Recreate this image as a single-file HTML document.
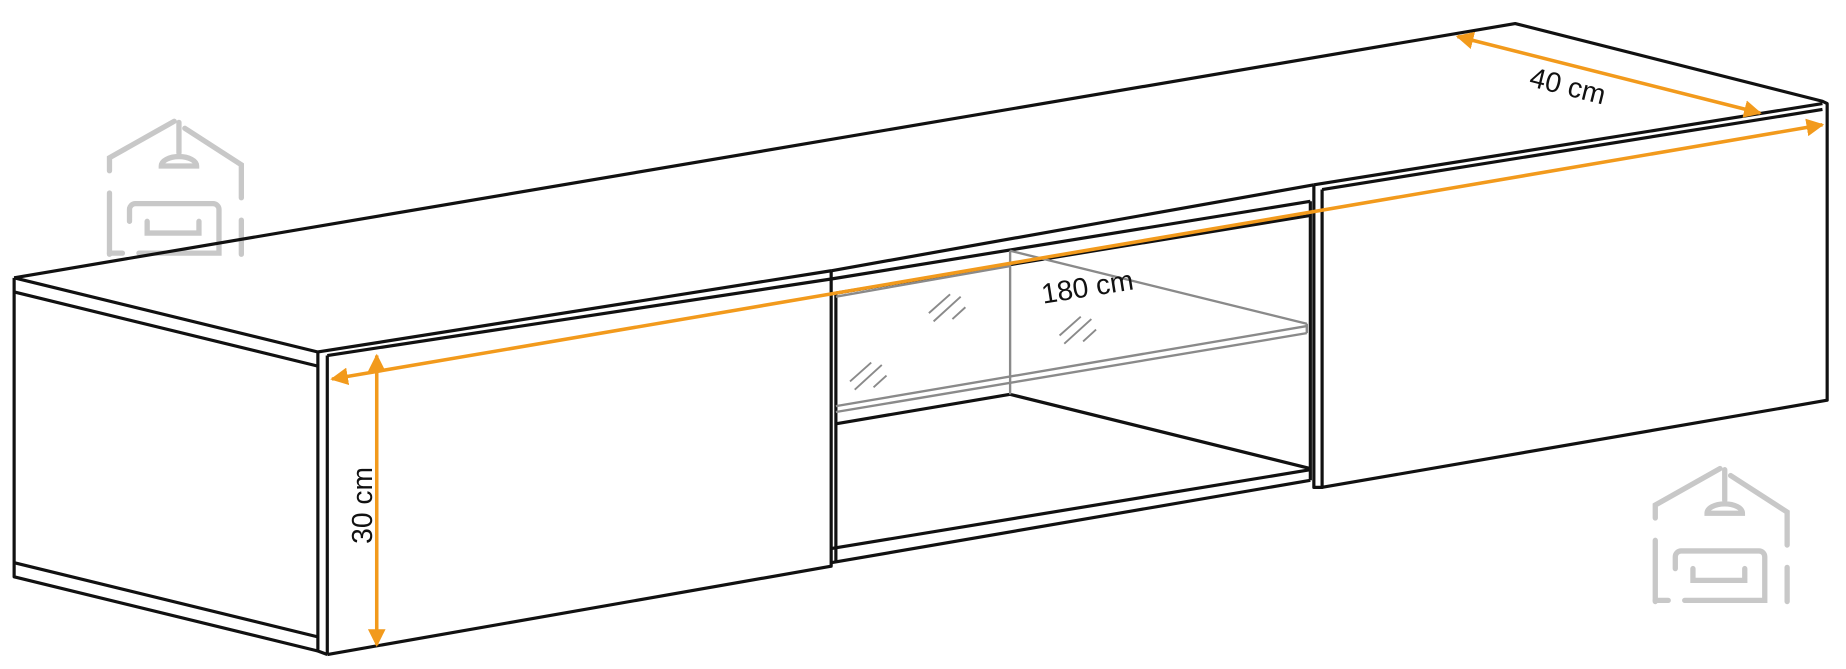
<!DOCTYPE html>
<html><head><style>html,body{margin:0;padding:0;background:#fff}svg{display:block}</style></head>
<body>
<svg width="1846" height="669" viewBox="0 0 1568 568.3" preserveAspectRatio="none" xmlns="http://www.w3.org/2000/svg">
<defs>
<marker id="a" viewBox="0 0 10 10" refX="9" refY="5" markerWidth="5" markerHeight="5" orient="auto-start-reverse"><path d="M0,0 L10,5 L0,10 z" fill="#f29a1c"/></marker>
</defs>
<g id="w" fill="none" stroke="#c8c8c8" stroke-width="4.5" stroke-linecap="round">
<path d="M93,216 V164 M93,145 V134 L148,103"/><path d="M157,109 L205,140 V168 M205,187 V216"/>
<path d="M152,104 V130"/><path d="M137,141 a15,8 0 0 1 30,0 z"/>
<path d="M110,188 V178 a5,5 0 0 1 5,-5 h66 a5,5 0 0 1 5,5 V215 h-10 M104,215 h-11 M118,215 h60 M125,188 V198 h44 V188"/>
</g>
<use href="#w" transform="translate(1313,295)"/>
<g fill="none" stroke="#111" stroke-width="2.7" stroke-linejoin="round">
<path d="M12,236 L1287,20 L1548,86 L1552,88 V340 L1123,414"/>
<path d="M12,236 V490 L270,553"/>
<path d="M12,236 L270,299"/><path d="M12,248 L270,311"/>
<path d="M12,478 L270,541"/>
<path d="M270,299 V553 L278,556"/><path d="M278,302 V556"/>
<path d="M270,299 L706,230"/><path d="M278,302 L706,237"/>
<path d="M278,556 L706,481 V230"/>
<path d="M706,237 L1113,171"/><path d="M710,249 L1113,183"/>
<path d="M710,360 L858,335 L1113,398"/>
<path d="M706,466 L1113,399"/><path d="M706,478 L1113,408"/>
<path d="M1113,171 V408"/><path d="M710,249 V478"/>
<path d="M1116,157 L1548,88"/><path d="M1123,161 L1548,93"/>
<path d="M1116,157 V414 L1123,414 V161"/>
<path d="M706,230 L1116,157"/>
</g>
<g fill="none" stroke="#8a8a8a" stroke-width="2">
<path d="M858,213 V335"/><path d="M858,213 L1110,275"/>
<path d="M710,345 L1110,277"/><path d="M710,350 L1110,283"/><path d="M1110,275 V283"/>
<path d="M710,252 L858,226"/>
</g>
<g fill="none" stroke="#8a8a8a" stroke-width="1.6">
<path d="M789,266 l18,-16 M793,273 l23,-21 M809,271 l11,-10"/>
<path d="M900,285 l18,-16 M904,292 l23,-21 M920,290 l11,-10"/>
<path d="M722,324 l18,-16 M726,331 l23,-21 M742,329 l11,-10"/>
</g>
<g stroke="#f29a1c" stroke-width="3" fill="none">
<line x1="282" y1="322" x2="1548" y2="106" marker-start="url(#a)" marker-end="url(#a)"/>
<line x1="320" y1="302" x2="320" y2="548" marker-start="url(#a)" marker-end="url(#a)"/>
<line x1="1238" y1="31" x2="1495" y2="96" marker-start="url(#a)" marker-end="url(#a)"/>
</g>
<g font-family="Liberation Sans, sans-serif" font-size="24" fill="#111">
<text x="886" y="258" transform="rotate(-9 886 258)">180 cm</text>
<text x="1298" y="73" transform="rotate(14 1298 73)">40 cm</text>
<text x="316" y="462" transform="rotate(-90 316 462)">30 cm</text>
</g>
</svg>
</body></html>
